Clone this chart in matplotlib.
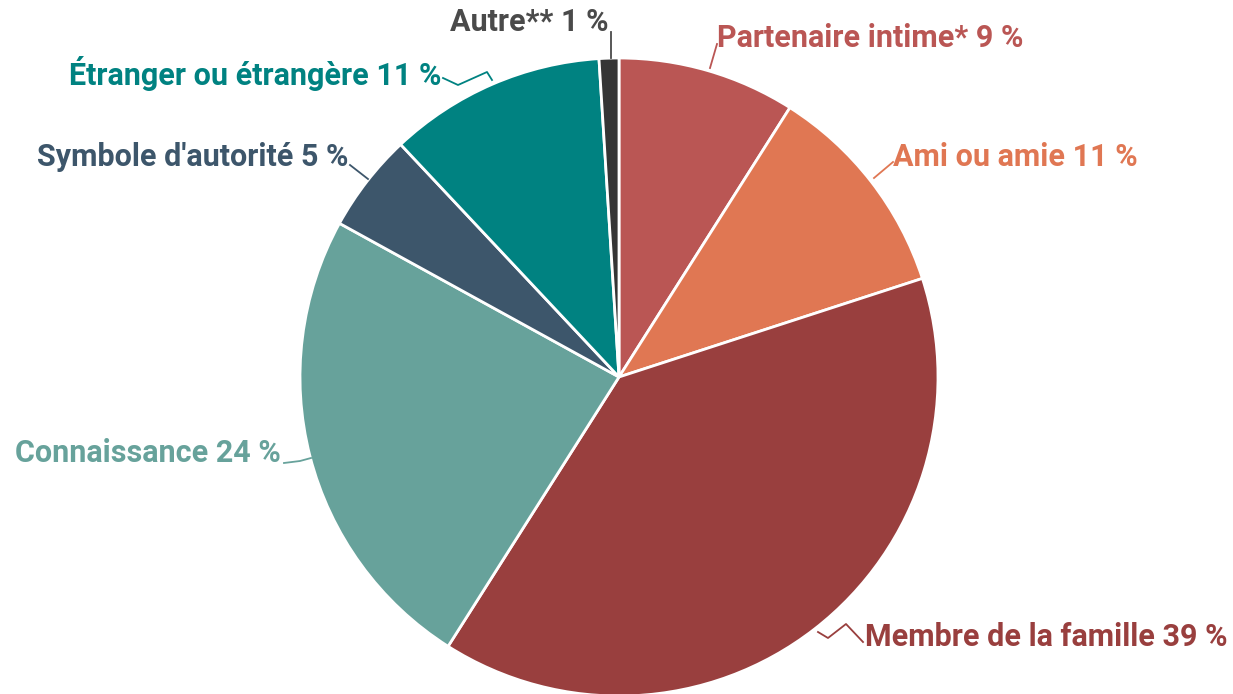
import matplotlib
matplotlib.use("Agg")
import matplotlib.pyplot as plt

categories = ["Partenaire intime*", "Ami ou amie", "Membre de la famille",
              "Connaissance", "Symbole d'autorité", "Étranger ou étrangère", "Autre**"]
values = [9, 11, 39, 24, 5, 11, 1]
colors = ["#BA5654", "#E07753", "#993F3E", "#67A29B", "#3D566B", "#008281", "#353535"]
label_colors = ["#BA5654", "#E07753", "#993F3E", "#67A29B", "#3D566B", "#008281", "#4A4A4A"]

W, H = 1233, 694
fig = plt.figure(figsize=(W / 100, H / 100), dpi=100)
ax = fig.add_axes([0, 0, 1, 1])

cx, cy, r = 619, H - 377, 319
ax.pie(values, colors=colors, startangle=90, counterclock=False,
       center=(cx, cy), radius=r, frame=True,
       wedgeprops=dict(edgecolor="white", linewidth=2))
ax.set_xlim(0, W)
ax.set_ylim(0, H)
ax.set_aspect("equal")
ax.axis("off")

# label layout: (text x, text y (top-origin), ha, leader polyline points top-origin)
layout = [
    (717, 38, "left", [(710, 68), (717, 44)]),
    (893, 157, "left", [(874, 178), (893, 162)]),
    (865, 637, "left", [(818, 632), (828, 638), (846, 624), (863, 642)]),
    (281, 453, "right", [(284, 463), (300, 461), (311, 458)]),
    (348, 157, "right", [(350, 165), (368, 179)]),
    (441, 73, "right", [(443, 78), (458, 85), (487, 72), (492, 80)]),
    (608, 22, "right", [(611, 32), (611, 58)]),
]

for cat, val, col, (tx, ty, ha, pts) in zip(categories, values, label_colors, layout):
    ax.text(tx, H - ty, f"{cat} {val} %", ha=ha, va="center", color=col,
            fontsize=22, fontfamily=["Roboto", "DejaVu Sans"], fontweight="semibold")
    xs = [p[0] for p in pts]
    ys = [H - p[1] for p in pts]
    ax.plot(xs, ys, color=col, linewidth=1.3)

fig.savefig("out.png", dpi=100, facecolor="white")
